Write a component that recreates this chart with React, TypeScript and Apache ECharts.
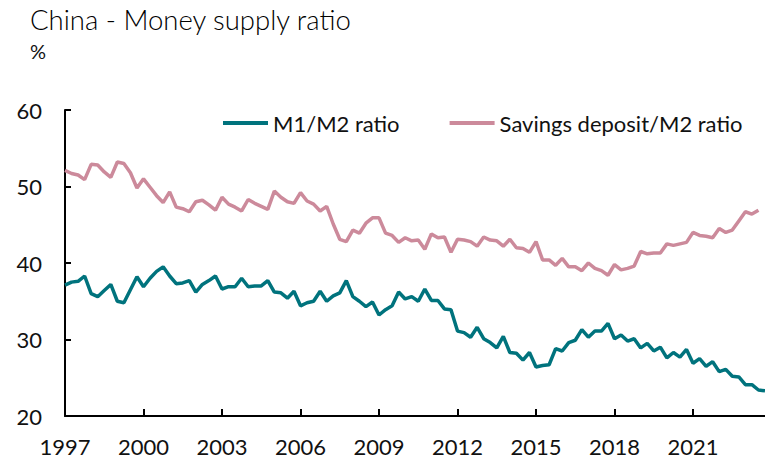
import React, { useEffect, useRef } from "react";
import * as echarts from "echarts";

// Quarterly observations, 1997 Q1 onwards
const startYear = 1997;
const quarterCount = 108;

const m1m2Ratio = [
  37.1, 37.5, 37.6, 38.3, 36.0, 35.6, 36.4, 37.2, 35.0, 34.8, 36.5, 38.2,
  36.9, 38.0, 38.9, 39.5, 38.3, 37.3, 37.4, 37.7, 36.2, 37.2, 37.7, 38.3,
  36.6, 36.9, 36.9, 38.0, 36.9, 37.0, 37.0, 37.7, 36.2, 36.1, 35.4, 36.3,
  34.4, 34.8, 35.0, 36.3, 35.0, 35.7, 36.1, 37.7, 35.6, 35.0, 34.3, 34.9,
  33.2, 33.9, 34.4, 36.2, 35.3, 35.6, 35.0, 36.6, 35.1, 35.1, 34.0, 33.9,
  31.1, 30.9, 30.3, 31.6, 30.1, 29.6, 28.9, 30.4, 28.3, 28.2, 27.3, 28.3,
  26.4, 26.6, 26.7, 28.8, 28.5, 29.6, 29.9, 31.3, 30.3, 31.1, 31.1, 32.1,
  30.1, 30.6, 29.8, 30.1, 28.9, 29.5, 28.5, 29.0, 27.6, 28.3, 27.7, 28.7,
  26.9, 27.5, 26.5, 27.1, 25.8, 26.1, 25.2, 25.1, 24.1, 24.1, 23.4, 23.3,
];

const savingsDepositM2Ratio = [
  52.1, 51.7, 51.5, 50.9, 52.9, 52.8, 51.9, 51.2, 53.2, 53.0, 51.8, 49.8,
  51.0, 49.9, 48.8, 47.9, 49.3, 47.3, 47.1, 46.7, 48.0, 48.2, 47.6, 46.9,
  48.6, 47.7, 47.3, 46.8, 48.3, 47.8, 47.4, 47.0, 49.4, 48.6, 48.0, 47.8,
  49.2, 48.1, 47.7, 46.8, 47.4, 45.1, 43.1, 42.8, 44.3, 43.9, 45.2, 45.9,
  45.9, 43.9, 43.6, 42.7, 43.3, 42.9, 43.0, 41.8, 43.8, 43.3, 43.4, 41.4,
  43.1, 43.0, 42.8, 42.2, 43.4, 43.0, 42.9, 42.2, 43.1, 42.0, 41.9, 41.4,
  42.8, 40.4, 40.4, 39.7, 40.6, 39.5, 39.5, 39.0, 40.0, 39.3, 39.0, 38.4,
  39.8, 39.1, 39.3, 39.6, 41.5, 41.2, 41.3, 41.3, 42.5, 42.3, 42.5, 42.7,
  44.0, 43.6, 43.5, 43.3, 44.5, 44.0, 44.3, 45.5, 46.7, 46.4, 46.9,
];

const seriesNames = ["M1/M2 ratio", "Savings deposit/M2 ratio"];
const titleText = "China - Money supply ratio";
const unitText = "%";

const quarterLabels: string[] = [];
for (let i = 0; i < quarterCount; i++) {
  quarterLabels.push(`${startYear + Math.floor(i / 4)} Q${(i % 4) + 1}`);
}

const FONT = "Lato";
const TEAL = "#00737d";
const PINK = "#cc8a9b";

export default function App() {
  const ref = useRef<HTMLDivElement>(null);
  useEffect(() => {
    if (!ref.current) return;
    const chart = echarts.init(ref.current, null, { renderer: "svg" });
    chart.setOption({
      animation: false,
      backgroundColor: "#ffffff",
      textStyle: { fontFamily: FONT },
      graphic: [
        {
          type: "text",
          left: 30,
          top: 5,
          style: { text: titleText, fontFamily: FONT, fontSize: 27.5, fontWeight: 300, fill: "#000000" },
        },
        {
          type: "text",
          left: 30,
          top: 41,
          style: { text: unitText, fontFamily: FONT, fontSize: 20, fontWeight: "normal", fill: "#111111" },
        },
      ],
      legend: {
        left: 218,
        top: 107,
        itemWidth: 45,
        itemHeight: 4,
        itemGap: 50,
        icon: "rect",
        textStyle: { fontFamily: FONT, fontSize: 22, color: "#111" },
        data: seriesNames,
      },
      grid: { left: 65, right: 0, top: 110, bottom: 43, containLabel: false },
      xAxis: {
        type: "category",
        data: quarterLabels,
        boundaryGap: false,
        axisLine: { lineStyle: { color: "#000", width: 2 } },
        axisTick: { interval: 11, inside: true, length: 7, lineStyle: { color: "#000", width: 2 } },
        axisLabel: {
          interval: 11,
          margin: 19,
          fontFamily: FONT,
          fontSize: 22,
          lineHeight: 22,
          color: "#111",
          formatter: (v: string) => v.slice(0, 4),
        },
        splitLine: { show: false },
      },
      yAxis: {
        type: "value",
        min: 20,
        max: 60,
        interval: 10,
        axisLine: { show: true, lineStyle: { color: "#000", width: 2 } },
        axisTick: { show: true, inside: true, length: 6, lineStyle: { color: "#000", width: 2 } },
        axisLabel: { margin: 23, fontFamily: FONT, fontSize: 22, color: "#111" },
        splitLine: { show: false },
      },
      series: [
        {
          name: seriesNames[0],
          type: "line",
          data: m1m2Ratio,
          showSymbol: false,
          symbol: "none",
          color: TEAL,
          lineStyle: { color: TEAL, width: 3.5 },
        },
        {
          name: seriesNames[1],
          type: "line",
          data: savingsDepositM2Ratio,
          showSymbol: false,
          symbol: "none",
          color: PINK,
          lineStyle: { color: PINK, width: 3.5 },
        },
      ],
    });
    return () => chart.dispose();
  }, []);
  return (
    <div
      ref={ref}
      style={{ position: "fixed", left: 0, top: 0, width: 765, height: 459, background: "#fff" }}
    />
  );
}
